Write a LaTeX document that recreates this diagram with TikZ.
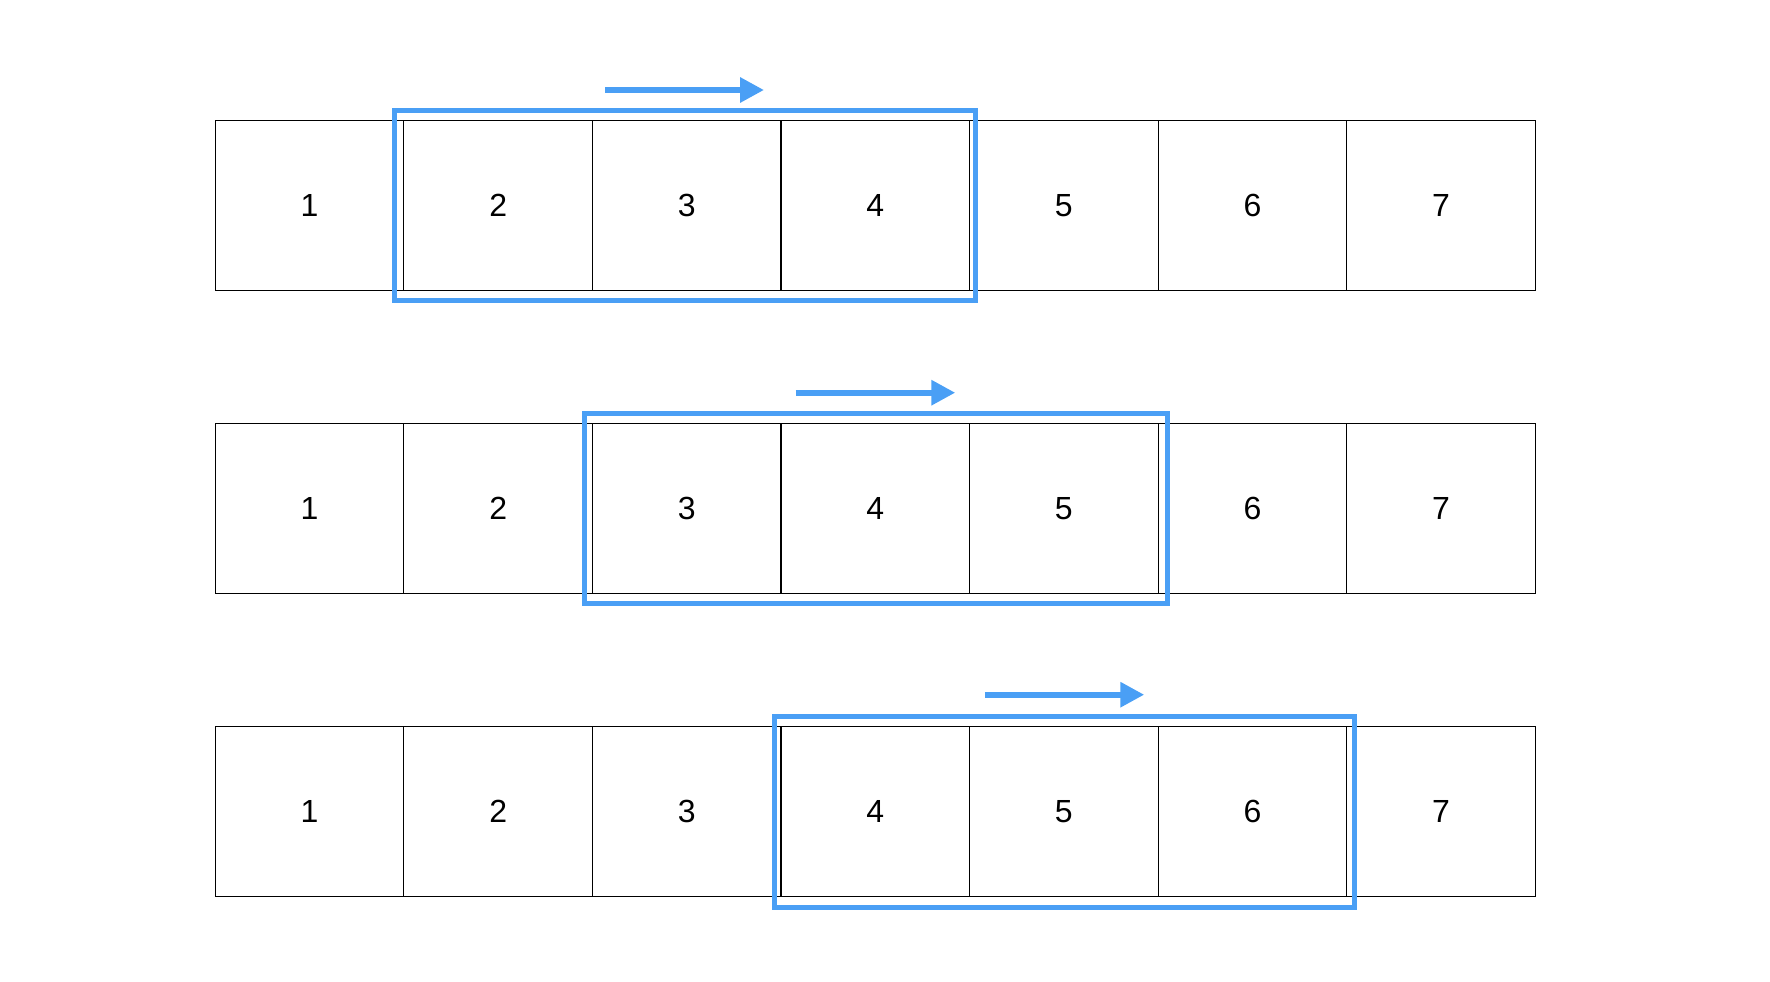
\documentclass[tikz,border=0pt]{standalone}
\usepackage{fontspec}
\setmainfont{Liberation Sans}
\usetikzlibrary{arrows.meta,calc}
\definecolor{winblue}{RGB}{74,159,245}
\tikzset{
  cell/.style={draw=black, line width=1.2pt, minimum width=188.57pt, minimum height=169.8pt,
    inner sep=0pt, outer sep=0pt, anchor=north west, font=\fontsize{32}{38}\selectfont},
  window/.style={draw=winblue, line width=5pt},
  slide/.style={draw=winblue, line width=6pt, -{Triangle[length=24pt,width=24pt]}}
}
\begin{document}
\begin{tikzpicture}[x=1pt,y=-1pt]
\useasboundingbox (0,0) rectangle (1770,982);
\foreach \r/\y in {1/120.3, 2/423.3, 3/726.3}{
  \foreach \c in {1,...,7}{
    \node[cell] (r\r c\c) at ({215.3+(\c-1)*188.57},\y) {\c};
  }
}
% windows
\draw[window] ($(r1c2.north west)+(-9,-9.5)$) rectangle ($(r1c4.south east)+(6,10.5)$);
\draw[window] ($(r2c3.north west)+(-8,-10)$) rectangle ($(r2c5.south east)+(9,10.7)$);
\draw[window] ($(r3c4.north west)+(-6.7,-9.5)$) rectangle ($(r3c6.south east)+(8,11)$);
% arrows
\coordinate (a1s) at ($(r1c3.north west)+(12.6,-30.3)$);
\coordinate (a1e) at ($(a1s)+(159,0)$);
\coordinate (a2s) at ($(r2c4.north west)+(14.6,-30.6)$);
\coordinate (a2e) at ($(a2s)+(159.7,0)$);
\coordinate (a3s) at ($(r3c5.north west)+(15.4,-31.6)$);
\coordinate (a3e) at ($(a3s)+(159.3,0)$);
\draw[slide] (a1s) -- (a1e);
\draw[slide] (a2s) -- (a2e);
\draw[slide] (a3s) -- (a3e);
\end{tikzpicture}
\end{document}
